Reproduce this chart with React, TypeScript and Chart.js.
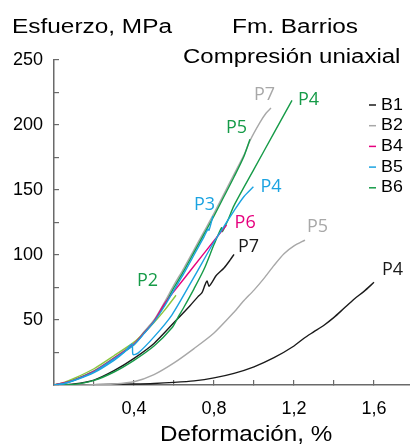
import React, { useEffect, useRef } from 'react';
import { Chart, registerables } from 'chart.js';

Chart.register(...registerables);

// ---------- data ----------
const X_TICKS_LABELED = [0.4, 0.8, 1.2, 1.6];
const X_TICK_LABELS = ['0,4', '0,8', '1,2', '1,6'];
const Y_TICKS_LABELED = [50, 100, 150, 200, 250];
const Y_TICK_LABELS = ['50', '100', '150', '200', '250'];

const LEGEND_GROUPS = ['B1', 'B2', 'B4', 'B5', 'B6'];

type Pt = [number, number];

const B1_P4: Pt[] = [[0, 0], [0.2, 0.3], [0.4, 0.8], [0.5, 1.2], [0.6, 2], [0.7, 3.2], [0.8, 5.5], [0.9, 9], [1.0, 14], [1.1, 21], [1.2, 30], [1.25, 36], [1.3, 41], [1.35, 46], [1.4, 52], [1.45, 59], [1.5, 66], [1.55, 72], [1.6, 79]];
const B1_P7: Pt[] = [[0, 0], [0.1, 0.8], [0.2, 3.8], [0.3, 11], [0.4, 20.5], [0.5, 32], [0.6, 48], [0.68, 61], [0.72, 68], [0.74, 71], [0.755, 77], [0.765, 80], [0.775, 76], [0.79, 79], [0.81, 84], [0.85, 90], [0.88, 96], [0.9, 100.5]];
const B2_P5: Pt[] = [[0, 0], [0.1, 0], [0.2, 0.3], [0.3, 0.8], [0.4, 2.5], [0.5, 8], [0.6, 17], [0.7, 28], [0.8, 40], [0.9, 56], [0.95, 65], [1.0, 73], [1.05, 82], [1.1, 92], [1.15, 101], [1.2, 107], [1.255, 111.5]];
const B2_P7: Pt[] = [[0, 0], [0.05, 1.5], [0.1, 4], [0.2, 11], [0.3, 21], [0.4, 32], [0.45, 41], [0.5, 50], [0.55, 63], [0.6, 77], [0.65, 90], [0.7, 104], [0.75, 118], [0.8, 132], [0.85, 147], [0.9, 162], [0.95, 177], [0.98, 188], [1.03, 202], [1.06, 209], [1.085, 213]];
const B4_P6: Pt[] = [[0, 0], [0.1, 3.8], [0.2, 10.5], [0.3, 20.5], [0.4, 31.5], [0.45, 40], [0.5, 49], [0.55, 62], [0.6, 72], [0.7, 91.5], [0.8, 111], [0.863, 123]];
const B5_P3: Pt[] = [[0, 0], [0.05, 1.2], [0.1, 3.5], [0.2, 10], [0.3, 20], [0.4, 31], [0.45, 39.5], [0.5, 48.5], [0.55, 60], [0.6, 73], [0.65, 86], [0.7, 100], [0.75, 114], [0.77, 120], [0.775, 119], [0.795, 130]];
const B5_P4: Pt[] = [[0, 0], [0.05, 1], [0.1, 3.3], [0.2, 9.5], [0.3, 19], [0.35, 25], [0.39, 31.5], [0.395, 23.5], [0.42, 24.5], [0.5, 37], [0.59, 54], [0.7, 83], [0.8, 110], [0.85, 122], [0.9, 134], [0.95, 145], [0.997, 152.5]];
const B6_P2: Pt[] = [[0, 0], [0.05, 2], [0.1, 5], [0.2, 12.5], [0.3, 22.5], [0.4, 33], [0.45, 40], [0.5, 48], [0.55, 57], [0.61, 69]];
const B6_P4: Pt[] = [[0, 0], [0.1, 0.5], [0.2, 3.5], [0.3, 10], [0.4, 19], [0.5, 30], [0.59, 44], [0.62, 52], [0.65, 60], [0.7, 74], [0.75, 89], [0.8, 108], [0.838, 121], [0.842, 118], [0.87, 127], [0.9, 138], [1.0, 166], [1.1, 194], [1.19, 219]];
const B6_P5: Pt[] = [[0, 0], [0.05, 1.3], [0.1, 3.8], [0.2, 10.5], [0.3, 20.5], [0.4, 31], [0.45, 40], [0.5, 49], [0.55, 61], [0.6, 75], [0.65, 88], [0.7, 102], [0.75, 116], [0.8, 130], [0.85, 145], [0.9, 160], [0.95, 176], [0.98, 189]];

// ---------- styles ----------
const C_BLACK = '#1a1a1a';
const C_GRAY = '#a8a8a8';
const C_MAGENTA = '#e6007e';
const C_BLUE = '#1ba3e1';
const C_GREEN = '#169b48';
const C_LIGHTGREEN = '#8cc63f';
const C_AXIS = '#6a6a6a';
const SANS = "'Liberation Sans', Arial, sans-serif";
const LABEL_FONT = "'Open Sans', 'Noto Sans', sans-serif";

const GROUP_COLORS: Record<string, string> = {
  B1: C_BLACK, B2: C_GRAY, B4: C_MAGENTA, B5: C_BLUE, B6: C_GREEN,
};

interface Curve {
  group: string;
  name: string;
  points: Pt[];
  line: string;
  text: string;
  dx: number;
  dy: number;
}

const CURVES: Curve[] = [
  { group: 'B5', name: 'P3', points: B5_P3, line: C_BLUE, text: C_BLUE, dx: -19, dy: -11 },
  { group: 'B5', name: 'P4', points: B5_P4, line: C_BLUE, text: C_BLUE, dx: 7, dy: 0 },
  { group: 'B4', name: 'P6', points: B4_P6, line: C_MAGENTA, text: C_MAGENTA, dx: 8, dy: -2 },
  { group: 'B6', name: 'P5', points: B6_P5, line: C_GREEN, text: C_GREEN, dx: -24, dy: -11 },
  { group: 'B6', name: 'P4', points: B6_P4, line: C_GREEN, text: C_GREEN, dx: 6, dy: 0 },
  { group: 'B6', name: 'P2', points: B6_P2, line: C_LIGHTGREEN, text: C_GREEN, dx: -39, dy: -14 },
  { group: 'B2', name: 'P7', points: B2_P7, line: C_GRAY, text: C_GRAY, dx: -17, dy: -13 },
  { group: 'B2', name: 'P5', points: B2_P5, line: C_GRAY, text: C_GRAY, dx: 2, dy: -13 },
  { group: 'B1', name: 'P7', points: B1_P7, line: C_BLACK, text: C_BLACK, dx: 4, dy: -7 },
  { group: 'B1', name: 'P4', points: B1_P4, line: C_BLACK, text: C_BLACK, dx: 8, dy: -12 },
];

function drawText(
  ctx: CanvasRenderingContext2D, text: string, x: number, y: number, font: string,
  color: string, sx = 1, align: CanvasTextAlign = 'left', baseline: CanvasTextBaseline = 'alphabetic',
) {
  ctx.save();
  ctx.font = font;
  ctx.fillStyle = color;
  ctx.textAlign = align;
  ctx.textBaseline = baseline;
  ctx.translate(x, y);
  ctx.scale(sx, 1);
  ctx.fillText(text, 0, 0);
  ctx.restore();
}

const overlayPlugin = {
  id: 'overlay',
  afterDatasetsDraw(chart: any) {
    const ctx: CanvasRenderingContext2D = chart.ctx;
    CURVES.forEach((c, i) => {
      const meta = chart.getDatasetMeta(i);
      const last = meta.data[meta.data.length - 1];
      if (!last) return;
      drawText(ctx, c.name, last.x + c.dx, last.y + c.dy, `18px ${LABEL_FONT}`, c.text, 1, 'left', 'middle');
    });
  },
  afterDraw(chart: any) {
    const ctx: CanvasRenderingContext2D = chart.ctx;
    drawText(ctx, 'Esfuerzo, MPa', 12, 33, `20px ${SANS}`, '#000', 1.22);
    drawText(ctx, 'Fm. Barrios', 232, 33, `20px ${SANS}`, '#000', 1.22);
    drawText(ctx, 'Compresión uniaxial', 183, 63, `20px ${SANS}`, '#000', 1.2);
    drawText(ctx, 'Deformación, %', 160, 441, `22px ${SANS}`, '#000', 1.1);
    // legend
    LEGEND_GROUPS.forEach((g, i) => {
      const y = 105 + i * 20.7;
      ctx.save();
      ctx.strokeStyle = GROUP_COLORS[g];
      ctx.lineWidth = 1.5;
      ctx.beginPath();
      ctx.moveTo(369, y);
      ctx.lineTo(376, y);
      ctx.stroke();
      ctx.restore();
      drawText(ctx, g, 381, y, `17px ${SANS}`, '#000', 1.05, 'left', 'middle');
    });
  },
};

function labelFor(v: number, ticks: number[], labels: string[]): string {
  for (let i = 0; i < ticks.length; i++) {
    if (Math.abs(v - ticks[i]) < 1e-6) return labels[i];
  }
  return '';
}

export default function App() {
  const ref = useRef<HTMLCanvasElement>(null);

  useEffect(() => {
    if (!ref.current) return;
    const chart = new Chart(ref.current, {
      type: 'scatter',
      data: {
        datasets: CURVES.map((c) => ({
          label: `${c.group} ${c.name}`,
          data: c.points.map(([x, y]) => ({ x, y })),
          showLine: true,
          borderColor: c.line,
          backgroundColor: c.line,
          borderWidth: 1.4,
          pointRadius: 0,
          pointHoverRadius: 0,
          tension: 0.25,
          fill: false,
        })),
      },
      options: {
        responsive: false,
        animation: false,
        events: [],
        layout: { padding: { top: 60, left: 0, right: 0, bottom: 0 } },
        plugins: {
          legend: { display: false },
          tooltip: { enabled: false },
          title: { display: false },
        },
        scales: {
          x: {
            type: 'linear',
            min: 0,
            max: 1.78,
            afterFit: (s: any) => { s.height = 60; },
            border: { display: true, color: C_AXIS, width: 1.5 },
            grid: { display: true, drawOnChartArea: false, drawTicks: true, tickLength: -5, color: C_AXIS, lineWidth: 1.2 },
            ticks: {
              stepSize: 0.2,
              includeBounds: false,
              autoSkip: false,
              maxRotation: 0,
              padding: 18,
              color: '#000',
              font: { family: SANS, size: 18 },
              callback: (v: any) => labelFor(Number(v), X_TICKS_LABELED, X_TICK_LABELS),
            },
          },
          y: {
            type: 'linear',
            min: 0,
            max: 250,
            afterFit: (s: any) => { s.width = 54; },
            border: { display: true, color: C_AXIS, width: 1.5 },
            grid: { display: true, drawOnChartArea: false, drawTicks: true, tickLength: -5, color: C_AXIS, lineWidth: 1.2 },
            ticks: {
              stepSize: 25,
              includeBounds: false,
              autoSkip: false,
              padding: 16,
              color: '#000',
              font: { family: SANS, size: 18 },
              callback: (v: any) => labelFor(Number(v), Y_TICKS_LABELED, Y_TICK_LABELS),
            },
          },
        },
      },
      plugins: [overlayPlugin],
    } as any);
    return () => chart.destroy();
  }, []);

  return (
    <div style={{ position: 'absolute', left: 0, top: 0, width: 410, height: 445, background: '#fff' }}>
      <canvas ref={ref} width={410} height={445} style={{ display: 'block' }} />
    </div>
  );
}
